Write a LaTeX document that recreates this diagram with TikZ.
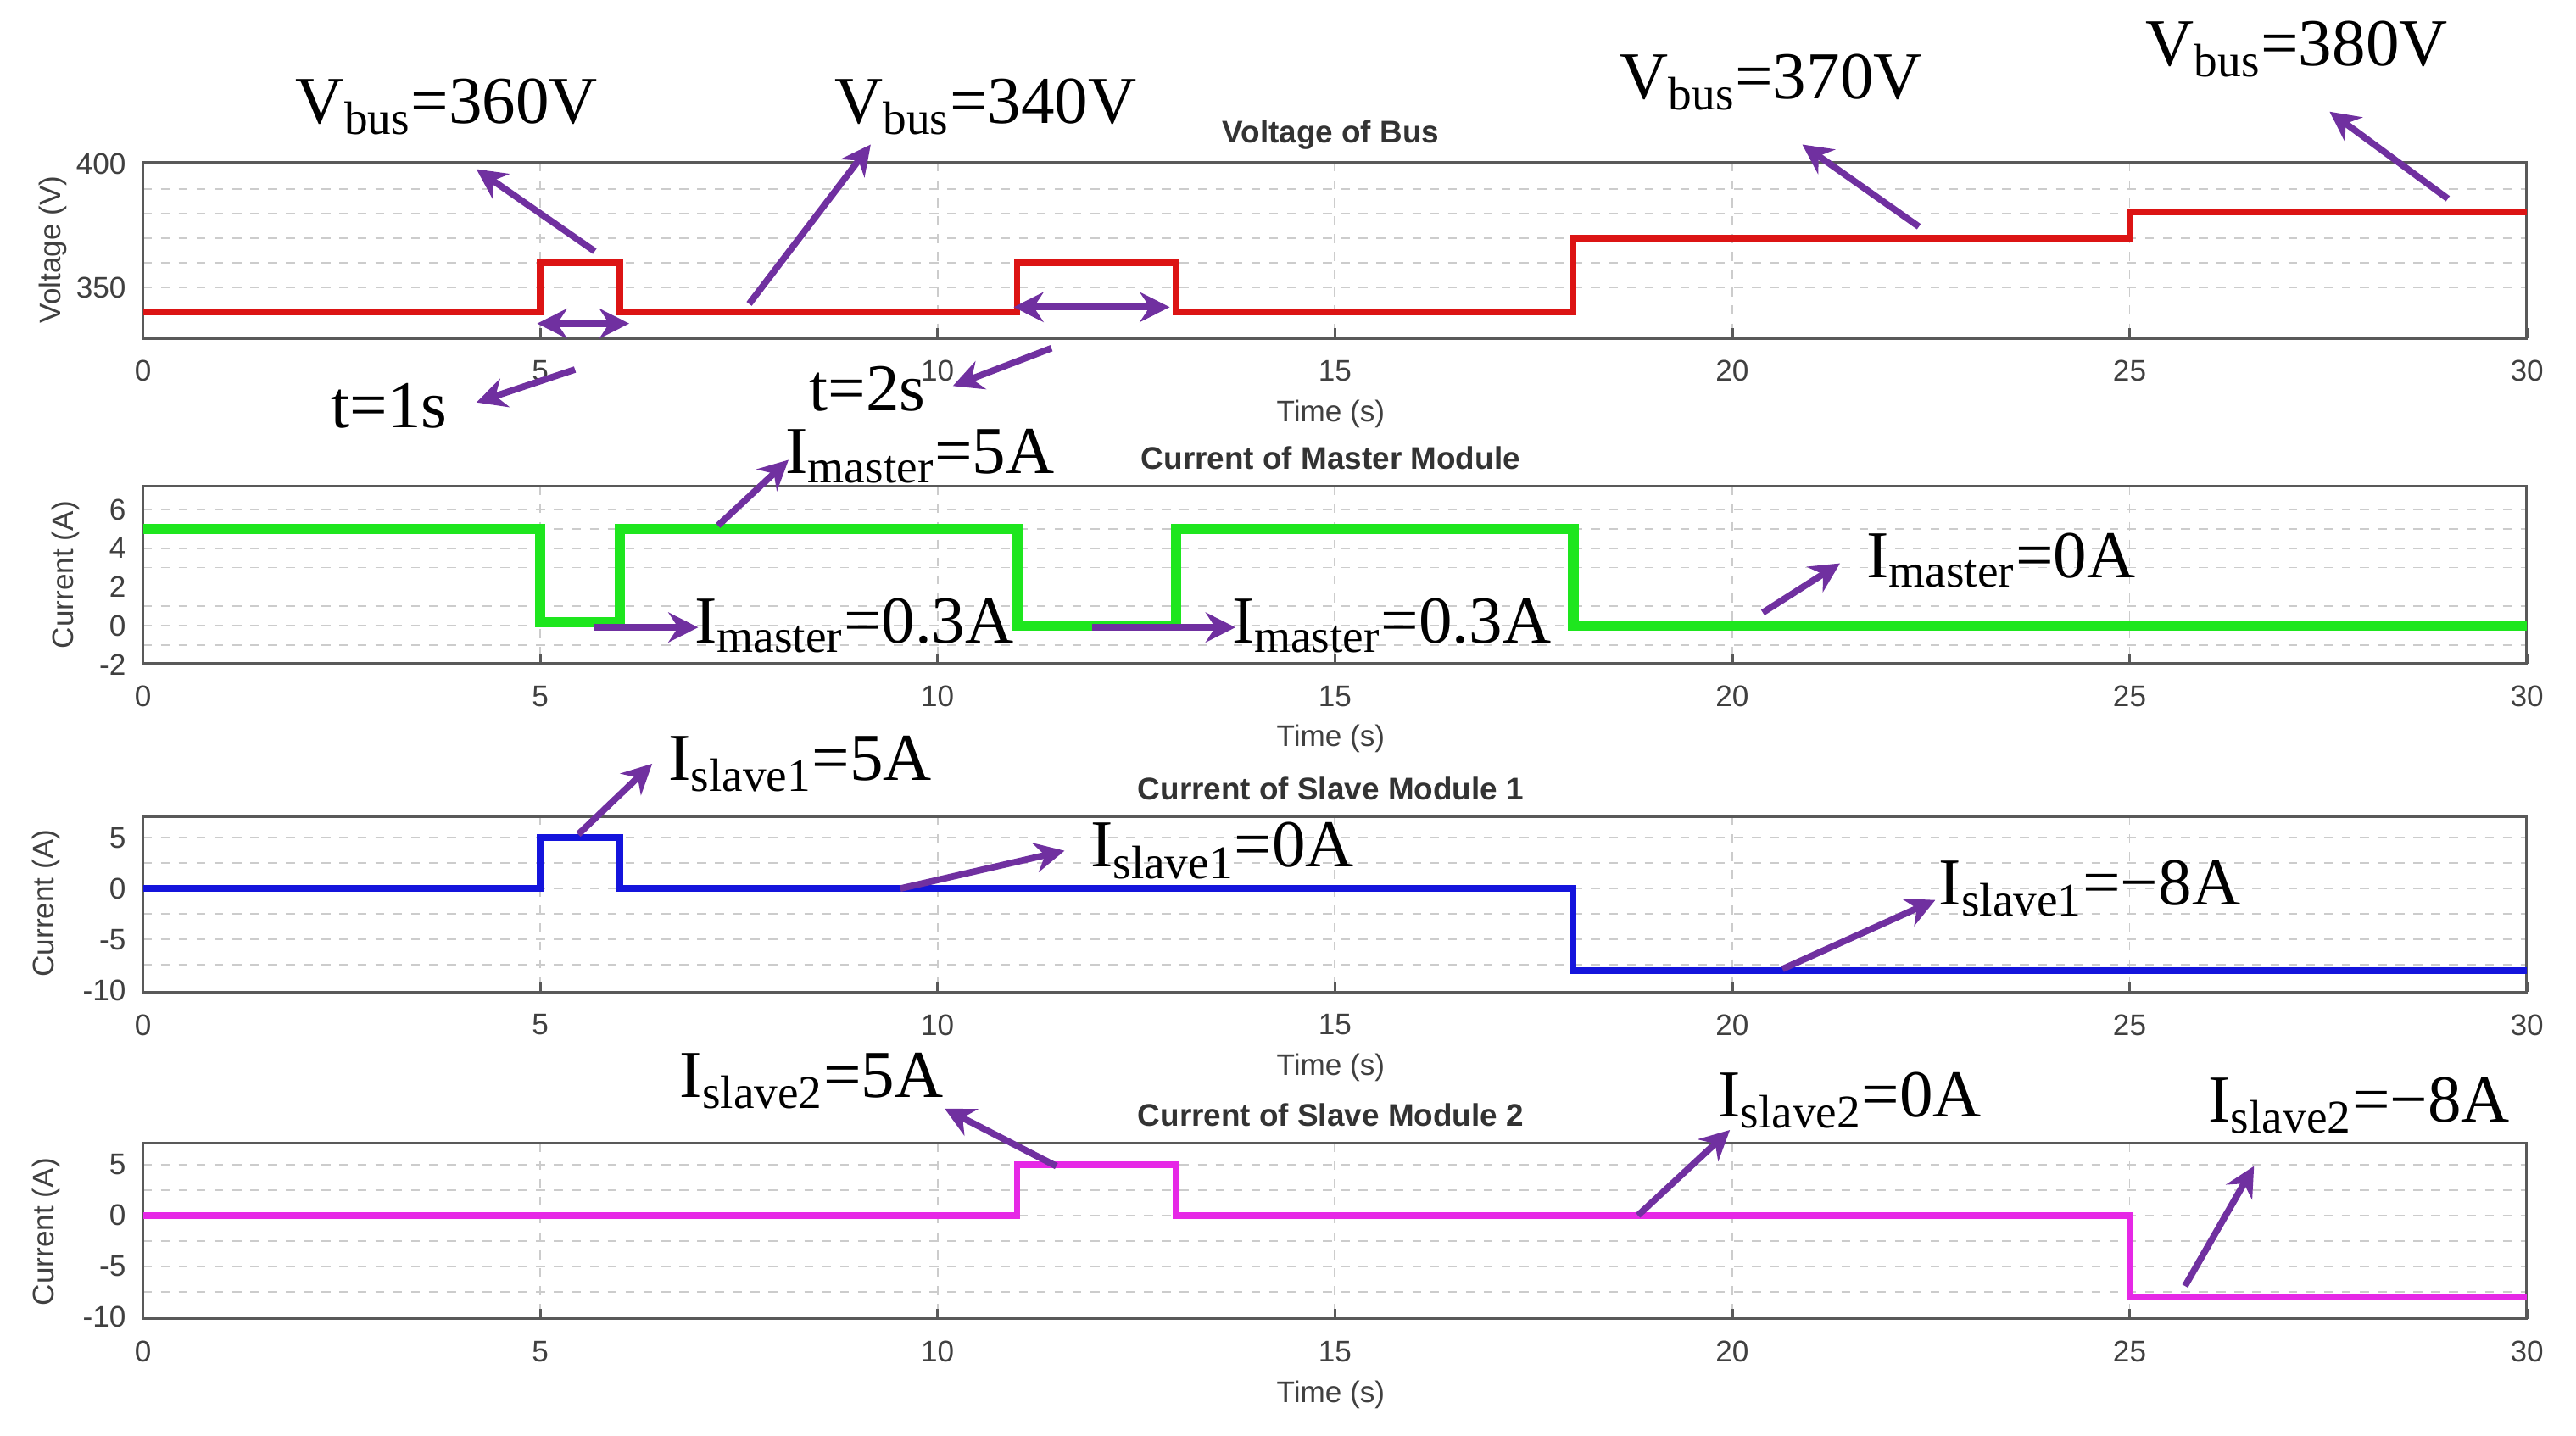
\documentclass[tikz,border=0pt]{standalone}
\usepackage{fontspec}
\setmainfont{Liberation Serif}
\newfontfamily\axfont{Liberation Sans}
\usetikzlibrary{arrows.meta,calc}
\definecolor{anno}{RGB}{112,48,160}
\definecolor{vred}{RGB}{220,20,20}
\definecolor{mgreen}{RGB}{30,230,30}
\definecolor{sblue}{RGB}{20,20,220}
\definecolor{smag}{RGB}{230,40,230}
\tikzset{
  ann/.style={draw=anno,line width=2.2pt,-{Stealth[length=10pt,width=10pt]}},
  twoway/.style={draw=anno,line width=2.2pt,{Stealth[length=10pt,width=10pt]}-{Stealth[length=10pt,width=10pt]}},
  lbl/.style={font=\fontsize{22.5}{24}\selectfont,inner sep=0pt},
  tick/.style={font=\axfont\fontsize{10}{11}\selectfont,text=black!75},
  ttl/.style={font=\axfont\bfseries\fontsize{10.5}{11}\selectfont,text=black!80},
  grd/.style={gray!40,dashed,line width=0.5pt},
  frm/.style={draw=black!65,line width=0.9pt},
  trace/.style={line width=2.2pt,line join=miter}
}
% one panel: top, bottom, title
\newcommand\axpanel[3]{
  \foreach \t in {5,10,...,25}
    \draw[grd] ({87+48.37*\t},#1) -- ({87+48.37*\t},#2);
  \draw[frm] (87,#1) rectangle (1538,#2);
  \foreach \t in {0,5,...,30}{
    \draw[frm] ({87+48.37*\t},#2) -- ({87+48.37*\t},#2-6);
    \node[tick] at ({87+48.37*\t},#2+20) {\t};
  }
  \node[tick] at (810,#2+46) {Time (s)};
  \node[ttl] at (810,#1-17) {#3};
}
\begin{document}
\begin{tikzpicture}[x=0.019375cm,y=-0.019375cm]
\useasboundingbox[fill=white] (0,0) rectangle (1568,874);

%Voltage of bus
\foreach \v in {350,360,...,390}
  \draw[grd] (87,{190-1.5*(\v-340)}) -- (1538,{190-1.5*(\v-340)});
\axpanel{99}{206}{Voltage of Bus}
\foreach \v in {350,400}
  \node[tick,anchor=east] at (83,{190-1.5*(\v-340)}) {\v};
\node[tick,rotate=90] at (32,152) {Voltage (V)};
\draw[trace,vred] (87,190) -| ({87+48.37*5},160) -| ({87+48.37*6},190) -| ({87+48.37*11},160)
  -| ({87+48.37*13},190) -| ({87+48.37*18},145) -| ({87+48.37*25},129) -- (1538,129);

%Current of master module
\foreach \i in {-1,0,...,6}
  \draw[grd] (87,{381-11.8*\i}) -- (1538,{381-11.8*\i});
\axpanel{296}{404}{Current of Master Module}
\foreach \i in {-2,0,...,6}
  \node[tick,anchor=east] at (83,{381-11.8*\i}) {\i};
\node[tick,rotate=90] at (40,350) {Current (A)};
\draw[trace,mgreen,line width=3.5pt] (87,322) -| ({87+48.37*5},379) -| ({87+48.37*6},322) -| ({87+48.37*11},381)
  -| ({87+48.37*13},322) -| ({87+48.37*18},381) -- (1538,381);

%Current of slave module 1
\foreach \i in {-7.5,-5,...,5}
  \draw[grd] (87,{541-6.2*\i}) -- (1538,{541-6.2*\i});
\axpanel{497}{604}{Current of Slave Module 1}
\foreach \i in {5,0,-5,-10}
  \node[tick,anchor=east] at (83,{541-6.2*\i}) {\i};
\node[tick,rotate=90] at (28,550) {Current (A)};
\draw[trace,sblue] (87,541) -| ({87+48.37*5},510) -| ({87+48.37*6},541) -| ({87+48.37*18},591) -- (1538,591);

%Current of slave module 2
\foreach \i in {-7.5,-5,...,5}
  \draw[grd] (87,{740-6.2*\i}) -- (1538,{740-6.2*\i});
\axpanel{696}{803}{Current of Slave Module 2}
\foreach \i in {5,0,-5,-10}
  \node[tick,anchor=east] at (83,{740-6.2*\i}) {\i};
\node[tick,rotate=90] at (28,750) {Current (A)};
\draw[trace,smag] (87,740) -| ({87+48.37*11},709) -| ({87+48.37*13},740) -| ({87+48.37*25},790) -- (1538,790);

%Labels
\node[lbl] (vb360) at (272,65) {V\textsubscript{bus}=360V};
\node[lbl] (vb340) at (600,65) {V\textsubscript{bus}=340V};
\node[lbl] (vb370) at (1078,50) {V\textsubscript{bus}=370V};
\node[lbl] (vb380) at (1398,30) {V\textsubscript{bus}=380V};
\node[lbl] (t1) at (237,247) {t=1s};
\node[lbl] (t2) at (528,237) {t=2s};
\node[lbl] (im5) at (560,278) {I\textsubscript{master}=5A};
\node[lbl] (ima) at (520,381) {I\textsubscript{master}=0.3A};
\node[lbl] (imb) at (847,381) {I\textsubscript{master}=0.3A};
\node[lbl] (im0) at (1218,341) {I\textsubscript{master}=0A};
\node[lbl] (is15) at (487,465) {I\textsubscript{slave1}=5A};
\node[lbl] (is10) at (744,518) {I\textsubscript{slave1}=0A};
\node[lbl] (is1n) at (1272,541) {I\textsubscript{slave1}=−8A};
\node[lbl] (is25) at (494,658) {I\textsubscript{slave2}=5A};
\node[lbl] (is20) at (1126,670) {I\textsubscript{slave2}=0A};
\node[lbl] (is2n) at (1436,673) {I\textsubscript{slave2}=−8A};

%Arrow ends
\coordinate (a1) at (362,153); \coordinate (b1) at (290,103);
\coordinate (a2) at (456,185); \coordinate (b2) at (530,88);
\coordinate (a3) at (1168,138); \coordinate (b3) at (1097,88);
\coordinate (a4) at (1490,121); \coordinate (b4) at (1418,68);
\coordinate (d1) at (327,197); \coordinate (e1) at (383,197);
\coordinate (d2) at (617,187); \coordinate (e2) at (712,187);
\coordinate (a5) at (350,225); \coordinate (b5) at (290,245);
\coordinate (a6) at (640,212); \coordinate (b6) at (580,235);
\coordinate (a7) at (437,320); \coordinate (b7) at (480,280);
\coordinate (a8) at (362,382); \coordinate (b8) at (425,382);
\coordinate (a9) at (665,382); \coordinate (b9) at (752,382);
\coordinate (a10) at (1073,373); \coordinate (b10) at (1120,343);
\coordinate (a11) at (352,508); \coordinate (b11) at (397,465);
\coordinate (a12) at (548,541); \coordinate (b12) at (648,518);
\coordinate (a13) at (1085,590); \coordinate (b13) at (1178,548);
\coordinate (a14) at (643,710); \coordinate (b14) at (575,675);
\coordinate (a15) at (997,740); \coordinate (b15) at (1053,688);
\coordinate (a16) at (1330,783); \coordinate (b16) at (1372,710);

\foreach \n in {1,...,16}
  \draw[ann] (a\n) -- (b\n);
\draw[twoway] (d1) -- (e1);
\draw[twoway] (d2) -- (e2);
\end{tikzpicture}
\end{document}
